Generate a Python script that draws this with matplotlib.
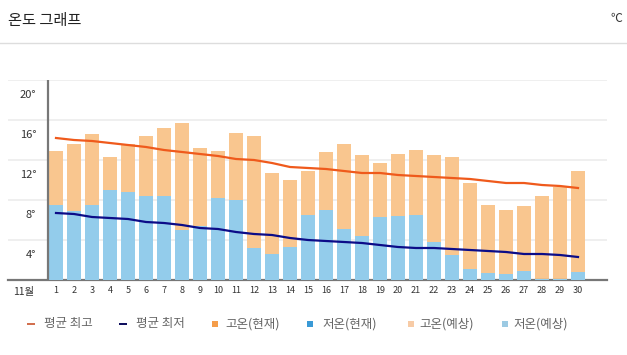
import matplotlib
matplotlib.use("Agg")
import matplotlib.pyplot as plt
from matplotlib.patches import Rectangle

plt.rcParams['font.family'] = ['Noto Sans CJK KR', 'DejaVu Sans']

# ---- data ----
days = list(range(1, 31))
high_fc = [12.9, 13.6, 14.6, 12.3, 13.6, 14.4, 15.2, 15.7, 13.2, 12.9,
           14.7, 14.4, 10.7, 10.0, 10.9, 12.8, 13.6, 12.5, 11.7, 12.6,
           13.0, 12.5, 12.3, 9.7, 7.5, 7.0, 7.4, 8.4, 9.3, 10.9]
low_fc = [7.5, 6.9, 7.5, 9.0, 8.8, 8.4, 8.4, 5.0, 5.4, 8.2,
          8.0, 3.2, 2.6, 3.3, 6.5, 7.0, 5.1, 4.4, 6.3, 6.4,
          6.5, 3.8, 2.5, 1.1, 0.7, 0.6, 0.9, 0.1, 0.15, 0.8]
avg_max = [14.2, 14.0, 13.9, 13.7, 13.5, 13.3, 13.0, 12.8, 12.6, 12.4,
           12.1, 12.0, 11.7, 11.3, 11.2, 11.1, 10.9, 10.7, 10.7, 10.5,
           10.4, 10.3, 10.2, 10.1, 9.9, 9.7, 9.7, 9.5, 9.4, 9.2]
avg_min = [6.7, 6.6, 6.3, 6.2, 6.1, 5.8, 5.7, 5.5, 5.2, 5.1,
           4.8, 4.6, 4.5, 4.2, 4.0, 3.9, 3.8, 3.7, 3.5, 3.3,
           3.2, 3.2, 3.1, 3.0, 2.9, 2.8, 2.6, 2.6, 2.5, 2.3]
yticks = [4, 8, 12, 16, 20]
ytick_labels = ["4°", "8°", "12°", "16°", "20°"]
month_label = "11월"
title = "온도 그래프"
unit = "℃"
legend_labels = ["평균 최고", "평균 최저", "고온(현재)", "저온(현재)", "고온(예상)", "저온(예상)"]

# ---- styles ----
C_HIGH = "#f9c68f"
C_LOW = "#93cceb"
C_MAXLINE = "#ef5a1c"
C_MINLINE = "#0c0c88"

W, H = 627, 355
fig = plt.figure(figsize=(W / 100, H / 100), dpi=100)

def fx(px):
    return px / W

def fy(py):
    return 1 - py / H

# axes spans px x 8..607, y 80..280
ax = fig.add_axes([fx(8), fy(280), fx(607) - fx(8), fy(80) - fy(280)])
x0 = 1 - 48 / 18
x1 = 1 + (607 - 56) / 18
ax.set_xlim(x0, x1)
ax.set_ylim(0, 20)

for v in yticks:
    ax.axhline(v, color="#ececec", lw=1.2, zorder=0)

ax.bar(days, high_fc, width=0.78, color=C_HIGH, zorder=2)
ax.bar(days, low_fc, width=0.78, color=C_LOW, zorder=3)
ax.plot(days, avg_max, color=C_MAXLINE, lw=1.6, zorder=4)
ax.plot(days, avg_min, color=C_MINLINE, lw=1.6, zorder=4)

for s in ["top", "right", "left"]:
    ax.spines[s].set_visible(False)
ax.spines["bottom"].set_color("#777777")
ax.spines["bottom"].set_linewidth(1.6)
ax.axvline(1 - 8 / 18, color="#777777", lw=1.6, zorder=5)

ax.set_yticks([])
ax.set_xticks(days)
ax.set_xticklabels([str(d) for d in days], fontsize=6.5, color="#333333")
ax.tick_params(axis="x", length=0, pad=4)

for v, lab in zip(yticks, ytick_labels):
    ax.text(-0.1, v - 1.55, lab, ha="right", va="center", fontsize=8, color="#333333")

fig.text(fx(24), fy(292), month_label, ha="center", va="center", fontsize=7.5, color="#333333")

# header
fig.text(fx(8), fy(20), title, ha="left", va="center", fontsize=11, color="#222222")
fig.text(fx(616), fy(19), unit, ha="center", va="center", fontsize=8.5, color="#333333")
fig.add_artist(plt.Line2D([0, 1], [fy(43), fy(43)], transform=fig.transFigure, color="#dddddd", lw=1))

# legend
ly = 324
items = [
    ("dash", "#d2704f", 31, 44),
    ("dash", "#10105e", 123, 136),
    ("sq", "#f59d4a", 214.5, 225),
    ("sq", "#3a9ad6", 309.5, 322),
    ("sq", "#f7cba6", 410.5, 419),
    ("sq", "#9ccae3", 504.5, 513),
]
for (kind, col, mx, tx), lab in zip(items, legend_labels):
    if kind == "dash":
        w, h = 8, 2.5
    else:
        w, h = 6, 6
    fig.add_artist(Rectangle((fx(mx - w / 2), fy(ly + h / 2)), w / W, h / H,
                             transform=fig.transFigure, color=col, lw=0))
    fig.text(fx(tx), fy(ly), lab, ha="left", va="center", fontsize=9, color="#666666")

fig.savefig("out.png", dpi=100)
